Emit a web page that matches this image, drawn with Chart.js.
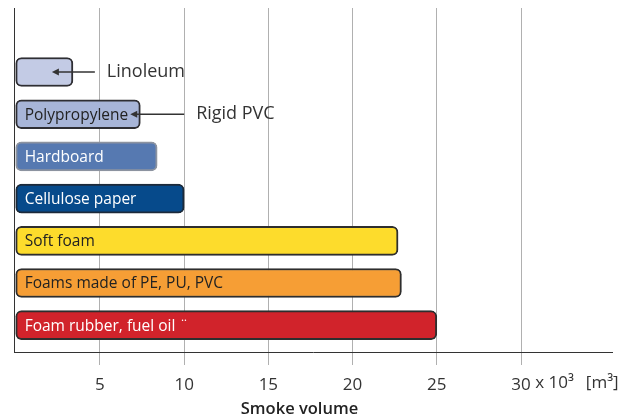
<!DOCTYPE html>
<html>
<head>
<meta charset="utf-8">
<script src="https://cdn.jsdelivr.net/npm/chart.js@4"></script>
<style>
  html, body { margin: 0; padding: 0; background: #fff; }
  #wrap { width: 633px; height: 419px; }
</style>
</head>
<body>
<div id="wrap"><canvas id="smoke"></canvas></div>
<script>
// smoke volume per material, in thousands of m3
const materials = ["", "Polypropylene", "Hardboard", "Cellulose paper", "Soft foam", "Foams made of PE, PU, PVC", "Foam rubber, fuel oil \u00a8"];
const smokeVolume = [3.4, 7.4, 8.4, 10.0, 22.7, 22.9, 25.0];
const fillColors = ["#c3cbe5", "#a7b5d8", "#5679b1", "#064a8b", "#fddc2c", "#f69e35", "#d1232b"];
const edgeColors = ["#2e2e33", "#2e2e33", "#8c93a0", "#1c2a3a", "#2e2e2e", "#2e2e2e", "#2e2e2e"];
const textColors = ["#222", "#222", "#fff", "#fff", "#222", "#222", "#fff"];
const tickValues = [5, 10, 15, 20, 25, 30];
const axisTitle = "Smoke volume";
// materials pointed at from outside their bar: [row, label, arrow tip, arrow tail]
const callouts = [[0, "Linoleum", 2.15, 4.7], [1, "Rigid PVC", 6.8, 10.0]];

const FONT = "'Open Sans', 'Noto Sans', sans-serif";
const TICK_LEN = 13;
const TICK_PAD = 10;
const TICK_SIZE = 17;

const barText = {
  id: "barText",
  afterDatasetsDraw(chart) {
    const ctx = chart.ctx;
    const xs = chart.scales.x;
    const meta = chart.getDatasetMeta(0);
    ctx.save();
    ctx.font = "15.5px " + FONT;
    ctx.textBaseline = "middle";
    meta.data.forEach((bar, i) => {
      ctx.fillStyle = textColors[i];
      ctx.fillText(materials[i], bar.base + 9, bar.y + 1);
    });
    // callout labels with arrows
    ctx.font = "18px " + FONT;
    ctx.strokeStyle = "#333";
    ctx.fillStyle = "#333";
    ctx.lineWidth = 1.5;
    callouts.forEach(([row, text, tipVal, tailVal]) => {
      const y = meta.data[row].y;
      const tip = xs.getPixelForValue(tipVal);
      const tail = xs.getPixelForValue(tailVal);
      ctx.beginPath();
      ctx.moveTo(tail, y);
      ctx.lineTo(tip + 4, y);
      ctx.stroke();
      ctx.beginPath();
      ctx.moveTo(tip, y);
      ctx.lineTo(tip + 7, y - 3.5);
      ctx.lineTo(tip + 7, y + 3.5);
      ctx.closePath();
      ctx.fill();
      ctx.fillText(text, tail + 12, y);
    });
    ctx.restore();
  },
  afterDraw(chart) {
    const xs = chart.scales.x;
    const ctx = chart.ctx;
    const last = tickValues[tickValues.length - 1];
    ctx.save();
    // unit next to the last tick label
    ctx.font = TICK_SIZE + "px " + FONT;
    ctx.fillStyle = "#333";
    ctx.textBaseline = "top";
    const y = xs.top + TICK_LEN + TICK_PAD;
    let x = xs.getPixelForValue(last) + ctx.measureText(String(last)).width / 2;
    ctx.fillText(" x 10\u00b3", x, y);
    x += ctx.measureText(" x 10\u00b3").width + 12;
    ctx.fillText("[m\u00b3]", x, y);
    // axis title, centred under the tick labels
    ctx.font = "600 16.5px " + FONT;
    ctx.fillStyle = "#222";
    ctx.textAlign = "center";
    ctx.textBaseline = "middle";
    ctx.fillText(axisTitle, (xs.getPixelForValue(5) + xs.getPixelForValue(30)) / 2 - 11, xs.bottom - 10);
    ctx.restore();
  }
};

new Chart(document.getElementById("smoke").getContext("2d"), {
  type: "bar",
  data: {
    datasets: [{
      data: smokeVolume.map((v, i) => ({ x: v, y: i })),
      backgroundColor: fillColors,
      borderColor: edgeColors,
      borderWidth: 2,
      borderRadius: 6,
      borderSkipped: false,
      barThickness: 29
    }]
  },
  options: {
    indexAxis: "y",
    responsive: true,
    maintainAspectRatio: false,
    animation: false,
    layout: { padding: { left: 14, right: 21, top: 8, bottom: 0 } },
    plugins: { legend: { display: false }, tooltip: { enabled: false } },
    scales: {
      x: {
        type: "linear",
        min: -0.1,
        max: 35.4,
        afterBuildTicks: (scale) => { scale.ticks = tickValues.map(v => ({ value: v })); },
        afterFit: (scale) => { scale.height = 67; },
        grid: { color: "#b0b0b0", lineWidth: 1, tickLength: TICK_LEN, tickColor: "#b0b0b0" },
        border: { display: true, color: "#333", width: 1 },
        ticks: { color: "#333", font: { family: FONT, size: TICK_SIZE }, padding: TICK_PAD, maxRotation: 0 },
        title: { display: false }
      },
      y: {
        type: "linear",
        reverse: true,
        offset: false,
        min: -1.517,
        max: 6.635,
        afterFit: (scale) => { scale.width = 0; },
        grid: { display: false },
        border: { display: true, color: "#333", width: 1 },
        ticks: { display: false }
      }
    }
  },
  plugins: [barText]
});
</script>
</body>
</html>
